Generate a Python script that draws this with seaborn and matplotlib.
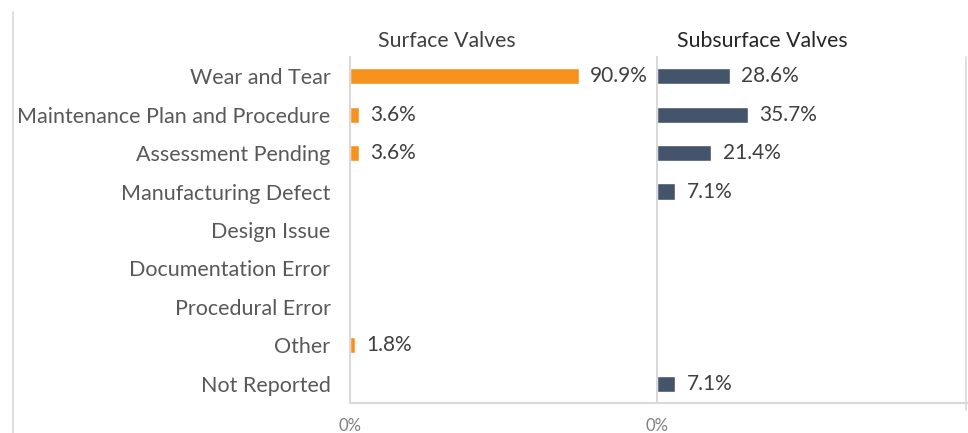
import matplotlib
matplotlib.use("Agg")
import matplotlib.pyplot as plt
import seaborn as sns
import pandas as pd
from matplotlib.lines import Line2D

# categories and shares (percent)
causes = ["Wear and Tear", "Maintenance Plan and Procedure", "Assessment Pending",
          "Manufacturing Defect", "Design Issue", "Documentation Error",
          "Procedural Error", "Other", "Not Reported"]
surface = [90.9, 3.6, 3.6, 0, 0, 0, 0, 1.8, 0]
subsurface = [28.6, 35.7, 21.4, 7.1, 0, 0, 0, 0, 7.1]
panel_titles = ["Surface Valves", "Subsurface Valves"]

sns.set_style("white")
plt.rcParams["font.family"] = ["Lato", "DejaVu Sans"]

orange = "#F7921E"
slate = "#44546A"
grid_grey = "#D9D9D9"

fig = plt.figure(figsize=(9.68, 4.33), dpi=100)
W, H = 968, 433

def px_axes(x0, x1, y0, y1):
    return fig.add_axes([x0 / W, 1 - y1 / H, (x1 - x0) / W, (y1 - y0) / H])

ax1 = px_axes(350, 657, 57, 403)
ax2 = px_axes(657, 967, 57, 403)

panels = [(ax1, surface, orange), (ax2, subsurface, slate)]
for i, (ax, vals, col) in enumerate(panels):
    df = pd.DataFrame({"cause": causes, "pct": vals})
    sns.barplot(data=df, y="cause", x="pct", orient="h", color=col,
                width=0.42, saturation=1, ax=ax)
    ax.set_xlim(0, 122)
    ax.set_ylim(8.5, -0.5)
    ax.set_xlabel("")
    ax.set_ylabel("")
    for j, v in enumerate(vals):
        if v > 0:
            ax.text(v + 4.6, j, f"{v:.1f}%", va="center", ha="left",
                    fontsize=15, color="#404040")
    ax.set_xticks([0])
    ax.set_xticklabels(["0%"], fontsize=12, color="#7F7F7F")
    ax.tick_params(axis="x", length=0, pad=11)
    for s in ["top", "right"]:
        ax.spines[s].set_visible(False)
    ax.spines["left"].set_color(grid_grey)
    ax.spines["left"].set_linewidth(1.5)
    ax.spines["bottom"].set_color(grid_grey)
    ax.spines["bottom"].set_linewidth(1.5)
    if i == 0:
        ax.tick_params(axis="y", length=0, pad=14)
        for lab in ax.get_yticklabels():
            lab.set_fontsize(15.5)
            lab.set_color("#595959")
    else:
        ax.set_yticks([])

fig.text(447 / W, 1 - 41 / H, panel_titles[0], ha="center", va="center",
         fontsize=15.3, color="#404040")
fig.text(762 / W, 1 - 41 / H, panel_titles[1], ha="center", va="center",
         fontsize=15.3, color="#262626")

# outer frame lines
fig.add_artist(Line2D([13 / W, 13 / W], [0, 1 - 12 / H], color=grid_grey, lw=1.2))
fig.add_artist(Line2D([966 / W, 966 / W], [1 - 410 / H, 1 - 57 / H], color=grid_grey, lw=1.2))

fig.savefig("out.png", dpi=100)
